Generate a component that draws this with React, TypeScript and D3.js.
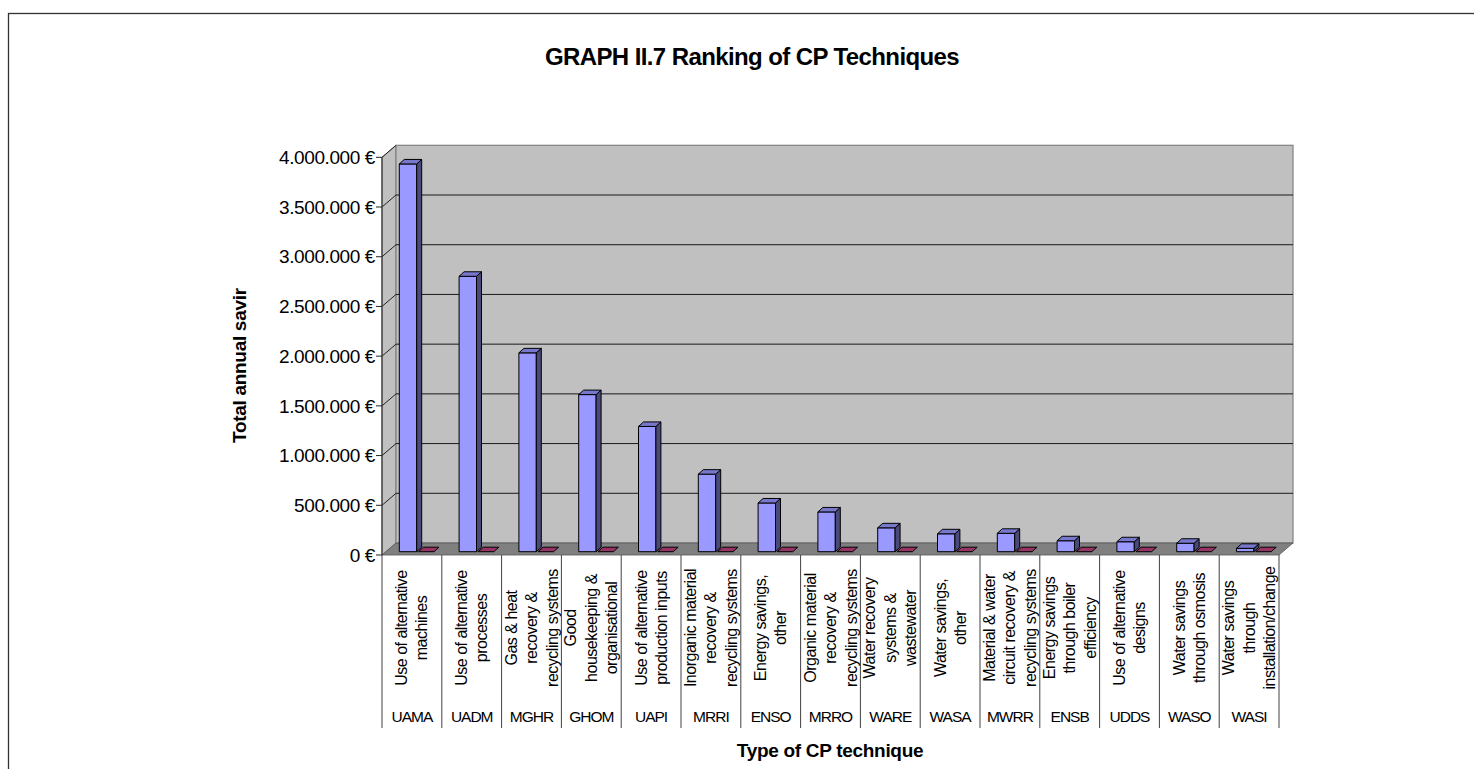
import * as d3 from 'd3';
import React from 'react';

const codes = ['UAMA', 'UADM', 'MGHR', 'GHOM', 'UAPI', 'MRRI', 'ENSO', 'MRRO', 'WARE', 'WASA', 'MWRR', 'ENSB', 'UDDS', 'WASO', 'WASI'];

const descriptions = [
  ['Use of alternative', 'machines'],
  ['Use of alternative', 'processes'],
  ['Gas & heat', 'recovery &', 'recycling systems'],
  ['Good', 'housekeeping &', 'organisational'],
  ['Use of alternative', 'production inputs'],
  ['Inorganic material', 'recovery &', 'recycling systems'],
  ['Energy savings,', 'other'],
  ['Organic material', 'recovery &', 'recycling systems'],
  ['Water recovery', 'systems &', 'wastewater'],
  ['Water savings,', 'other'],
  ['Material & water', 'circuit recovery &', 'recycling systems'],
  ['Energy savings', 'through boiler', 'efficiency'],
  ['Use of alternative', 'designs'],
  ['Water savings', 'through osmosis'],
  ['Water savings', 'through', 'installation/change'],
];

const savings = [3900000, 2770000, 2000000, 1580000, 1260000, 780000, 490000, 400000, 240000, 180000, 185000, 110000, 100000, 85000, 34000];
const secondSeries = [0, 0, 0, 0, 0, 0, 0, 0, 0, 0, 0, 0, 0, 0, 0];

const yTicks = [0, 500000, 1000000, 1500000, 2000000, 2500000, 3000000, 3500000, 4000000];

const title = 'GRAPH II.7 Ranking of CP Techniques';
const yTitle = 'Total annual savir';
const xTitle = 'Type of CP technique';

const W = 1474;
const H = 769;
const FONT = 'Arial, "Liberation Sans", sans-serif';

// 3d geometry of the plot box
const DX = 14;
const DY = -12;
const BAR_DX = 5;
const BAR_DY = -4.5;
const BAR_SINK = 3.3;

const fmt = (v: number) => d3.format(',')(v).replace(/,/g, '.') + ' €';

export default function App() {
  const x = d3.scaleBand<string>().domain(codes).range([382, 1279]).paddingInner(0).paddingOuter(0);
  const y = d3.scaleLinear().domain([0, 4000000]).range([555, 157.3]);
  const bw = x.bandwidth();
  const y0 = y(0);
  const yTop = y(4000000);

  const bar = (x0: number, w: number, top: number, base: number, fills: string[], key: string) => {
    const front = `M${x0},${base}L${x0 + w},${base}L${x0 + w},${top}L${x0},${top}Z`;
    const side = `M${x0 + w},${base}L${x0 + w + BAR_DX},${base + BAR_DY}L${x0 + w + BAR_DX},${top + BAR_DY}L${x0 + w},${top}Z`;
    const topFace = `M${x0},${top}L${x0 + w},${top}L${x0 + w + BAR_DX},${top + BAR_DY}L${x0 + BAR_DX},${top + BAR_DY}Z`;
    return (
      <g key={key} stroke="#000" strokeWidth={1} strokeLinejoin="round">
        {top < base - 0.5 && <path d={front} fill={fills[0]} />}
        {top < base - 0.5 && <path d={side} fill={fills[1]} />}
        <path d={topFace} fill={fills[2]} />
      </g>
    );
  };

  return (
    <svg width={W} height={H} style={{ position: 'absolute', left: 0, top: 0, display: 'block' }} fontFamily={FONT}>
      <rect x={0} y={0} width={W} height={H} fill="#fff" />
      <rect x={8.5} y={13.5} width={W} height={H} fill="none" stroke="#333" strokeWidth={1.3} />

      <text x={752} y={65} textAnchor="middle" fontSize={24} fontWeight="bold" letterSpacing={-0.6}>{title}</text>

      {/* left wall */}
      <path d={`M382,${y0}L382,${yTop}L${382 + DX},${yTop + DY}L${382 + DX},${y0 + DY}Z`} fill="#c0c0c0" stroke="#808080" />
      {/* back wall */}
      <rect x={382 + DX} y={yTop + DY} width={1279 - 382} height={y0 - yTop} fill="#c0c0c0" stroke="#808080" strokeWidth={1.2} />
      {/* floor */}
      <path d={`M382,${y0}L1279,${y0}L${1279 + DX},${y0 + DY}L${382 + DX},${y0 + DY}Z`} fill="#808080" stroke="#555" strokeWidth={0.8} />

      {yTicks.filter(t => t > 0 && t < 4000000).map(t => (
        <line key={'g' + t} x1={382 + DX} x2={1279 + DX} y1={y(t) + DY} y2={y(t) + DY} stroke="#1a1a1a" strokeWidth={1} />
      ))}
      {yTicks.map(t => (
        <g key={'t' + t}>
          {t > 0 && <line x1={382} x2={382 + DX} y1={y(t)} y2={y(t) + DY} stroke="#222" strokeWidth={1} />}
          <line x1={376} x2={382} y1={y(t)} y2={y(t)} stroke="#222" strokeWidth={1} />
          <text x={375} y={y(t)} dy="0.35em" textAnchor="end" fontSize={19} letterSpacing={-0.4}>{fmt(t)}</text>
        </g>
      ))}
      <line x1={382} x2={382} y1={yTop} y2={y0} stroke="#333" strokeWidth={1.2} />

      {codes.map((c, i) => {
        const x0 = x(c)!;
        const base = y0 - BAR_SINK;
        const topBlue = y(savings[i]) - BAR_SINK;
        const topRed = y(secondSeries[i]) - BAR_SINK;
        return (
          <g key={c}>
            {bar(x0 + 36.5, 15.5, topRed, base, ['#993366', '#66224a', '#993366'], 'r')}
            {bar(x0 + 17.3, 17.4, topBlue, base, ['#9999ff', '#4a4a7a', '#7777cc'], 'b')}
          </g>
        );
      })}

      {/* category table */}
      {codes.map(c => (
        <line key={'v' + c} x1={x(c)!} x2={x(c)!} y1={y0} y2={728} stroke="#404040" strokeWidth={1} />
      ))}
      <line x1={1279} x2={1279} y1={y0} y2={728} stroke="#404040" strokeWidth={1} />

      {codes.map((c, i) => {
        const cx = x(c)! + bw / 2;
        const lines = descriptions[i];
        const step = lines.length > 2 ? 20.5 : 20;
        return (
          <g key={'l' + c}>
            {lines.map((ln, j) => {
              const lx = cx + (j - (lines.length - 1) / 2) * step;
              return (
                <text key={j} transform={`translate(${lx},628) rotate(-90)`} textAnchor="middle" dominantBaseline="central" fontSize={16} letterSpacing={-0.5}>{ln}</text>
              );
            })}
            <text x={cx} y={722} textAnchor="middle" fontSize={15.5} letterSpacing={-1}>{c}</text>
          </g>
        );
      })}

      <text x={830} y={757} textAnchor="middle" fontSize={19} fontWeight="bold" letterSpacing={-0.3}>{xTitle}</text>
      <text transform="translate(246,443) rotate(-90)" textAnchor="start" fontSize={19} fontWeight="bold" letterSpacing={-0.3}>{yTitle}</text>
    </svg>
  );
}
